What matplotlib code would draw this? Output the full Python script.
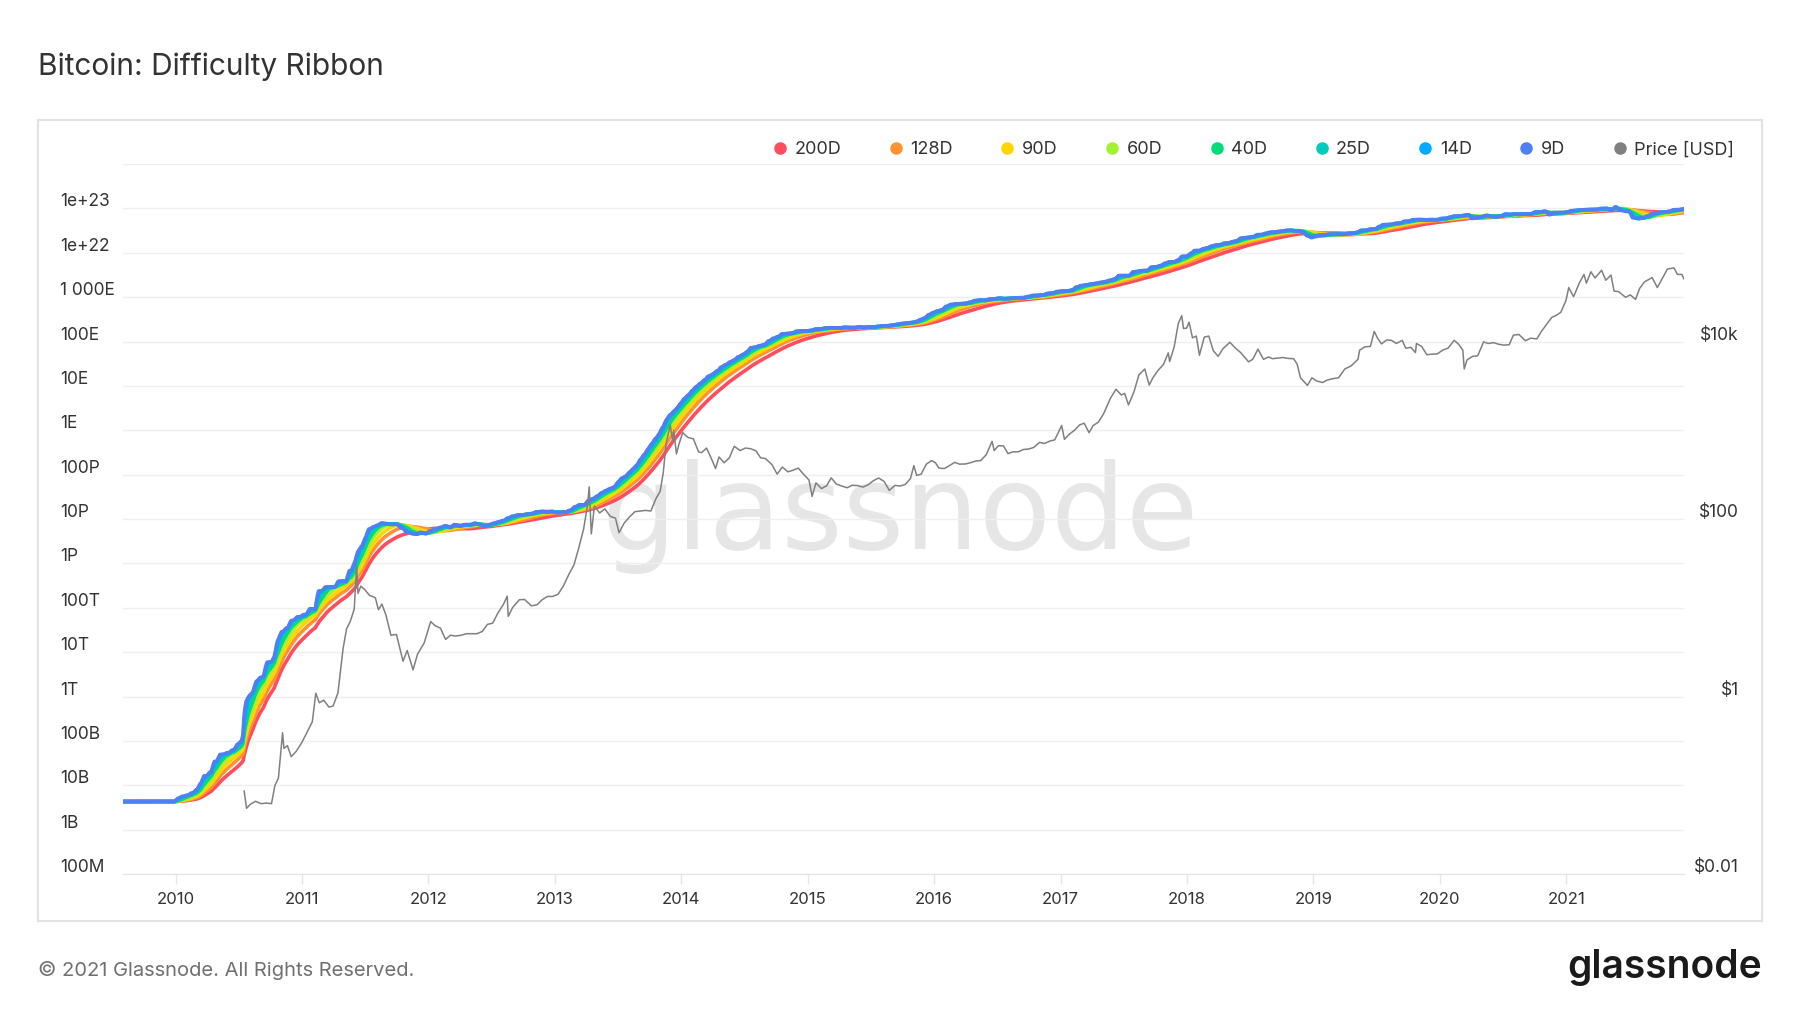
import matplotlib.pyplot as plt
import matplotlib.dates as mdates
import matplotlib.transforms as mtransforms
from matplotlib.lines import Line2D
from matplotlib.patches import Rectangle
import pandas as pd

plt.rcParams['font.family'] = ['Inter', 'DejaVu Sans']

# Mining difficulty at (roughly) each retarget, raw difficulty units.
# The chart plots it as expected hashes per block = difficulty * 2^32
HASHES_PER_DIFF = 2 ** 32
diff_dates = [
    '2009-01-03', '2009-12-30', '2010-01-11', '2010-01-25', '2010-02-07', '2010-02-21', '2010-03-05', '2010-03-16',
    '2010-04-02', '2010-04-15', '2010-05-01', '2010-05-20', '2010-06-05', '2010-06-20', '2010-07-02', '2010-07-12',
    '2010-07-16', '2010-07-25', '2010-08-05', '2010-08-14', '2010-08-25', '2010-09-07', '2010-09-14', '2010-09-26',
    '2010-10-06', '2010-10-14', '2010-10-17', '2010-10-26', '2010-11-08', '2010-11-22', '2010-12-01', '2010-12-10',
    '2010-12-28', '2011-01-15', '2011-02-10', '2011-03-01', '2011-03-14', '2011-04-08', '2011-05-10', '2011-05-25',
    '2011-06-04', '2011-06-14', '2011-06-25', '2011-07-05', '2011-07-18', '2011-07-30', '2011-08-10', '2011-08-22',
    '2011-09-05', '2011-09-20', '2011-10-05', '2011-10-20', '2011-11-05', '2011-11-17', '2011-11-30', '2011-12-12',
    '2011-12-28', '2012-01-10', '2012-01-25', '2012-02-08', '2012-02-22', '2012-03-07', '2012-03-20', '2012-04-05',
    '2012-04-19', '2012-05-04', '2012-05-17', '2012-06-01', '2012-06-14', '2012-06-28', '2012-07-12', '2012-07-25',
    '2012-08-08', '2012-08-22', '2012-09-05', '2012-09-18', '2012-10-01', '2012-10-15', '2012-10-29', '2012-11-12',
    '2012-11-27', '2012-12-12', '2012-12-26', '2013-01-09', '2013-01-22', '2013-02-04', '2013-02-18', '2013-03-03',
    '2013-03-15', '2013-03-29', '2013-04-11', '2013-04-24', '2013-05-06', '2013-05-18', '2013-05-30', '2013-06-11',
    '2013-06-23', '2013-07-04', '2013-07-15', '2013-07-26', '2013-08-06', '2013-08-16', '2013-08-27', '2013-09-07',
    '2013-09-18', '2013-09-28', '2013-10-09', '2013-10-20', '2013-10-30', '2013-11-10', '2013-11-20', '2013-12-01',
    '2013-12-10', '2013-12-20', '2013-12-31', '2014-01-11', '2014-01-23', '2014-02-03', '2014-02-15', '2014-02-27',
    '2014-03-11', '2014-03-23', '2014-04-04', '2014-04-17', '2014-04-29', '2014-05-12', '2014-05-24', '2014-06-05',
    '2014-06-18', '2014-06-30', '2014-07-12', '2014-07-25', '2014-08-06', '2014-08-19', '2014-09-01', '2014-09-14',
    '2014-09-27', '2014-10-10', '2014-10-24', '2014-11-07', '2014-11-20', '2014-12-04', '2014-12-17', '2014-12-30',
    '2015-01-14', '2015-01-27', '2015-02-09', '2015-02-23', '2015-03-09', '2015-03-23', '2015-04-06', '2015-04-20',
    '2015-05-04', '2015-05-18', '2015-06-01', '2015-06-15', '2015-06-29', '2015-07-13', '2015-07-27', '2015-08-10',
    '2015-08-24', '2015-09-07', '2015-09-21', '2015-10-05', '2015-10-19', '2015-11-02', '2015-11-14', '2015-11-26',
    '2015-12-08', '2015-12-20', '2016-01-01', '2016-01-14', '2016-01-27', '2016-02-09', '2016-02-23', '2016-03-07',
    '2016-03-21', '2016-04-04', '2016-04-18', '2016-05-02', '2016-05-16', '2016-05-30', '2016-06-13', '2016-06-27',
    '2016-07-11', '2016-07-25', '2016-08-08', '2016-08-22', '2016-09-05', '2016-09-19', '2016-10-03', '2016-10-17',
    '2016-10-31', '2016-11-14', '2016-11-28', '2016-12-12', '2016-12-26', '2017-01-09', '2017-01-23', '2017-02-06',
    '2017-02-20', '2017-03-06', '2017-03-20', '2017-04-03', '2017-04-17', '2017-05-01', '2017-05-14', '2017-05-27',
    '2017-06-09', '2017-06-23', '2017-07-07', '2017-07-20', '2017-08-03', '2017-08-16', '2017-08-29', '2017-09-11',
    '2017-09-24', '2017-10-07', '2017-10-20', '2017-11-02', '2017-11-15', '2017-11-27', '2017-12-09', '2017-12-21',
    '2018-01-02', '2018-01-14', '2018-01-26', '2018-02-08', '2018-02-20', '2018-03-04', '2018-03-16', '2018-03-28',
    '2018-04-09', '2018-04-21', '2018-05-03', '2018-05-15', '2018-05-27', '2018-06-08', '2018-06-20', '2018-07-02',
    '2018-07-14', '2018-07-26', '2018-08-07', '2018-08-19', '2018-08-31', '2018-09-12', '2018-09-24', '2018-10-06',
    '2018-10-18', '2018-10-30', '2018-11-11', '2018-11-23', '2018-12-05', '2018-12-17', '2018-12-29', '2019-01-10',
    '2019-01-22', '2019-02-04', '2019-02-18', '2019-03-04', '2019-03-18', '2019-04-01', '2019-04-14', '2019-04-27',
    '2019-05-10', '2019-05-23', '2019-06-05', '2019-06-18', '2019-07-01', '2019-07-13', '2019-07-25', '2019-08-06',
    '2019-08-18', '2019-08-30', '2019-09-11', '2019-09-23', '2019-10-05', '2019-10-17', '2019-10-29', '2019-11-10',
    '2019-11-22', '2019-12-04', '2019-12-16', '2019-12-28', '2020-01-09', '2020-01-21', '2020-02-02', '2020-02-14',
    '2020-02-26', '2020-03-09', '2020-03-26', '2020-04-08', '2020-04-21', '2020-05-04', '2020-05-20', '2020-06-04',
    '2020-06-16', '2020-06-29', '2020-07-11', '2020-07-24', '2020-08-05', '2020-08-17', '2020-08-30', '2020-09-12',
    '2020-09-24', '2020-10-05', '2020-10-19', '2020-11-03', '2020-11-16', '2020-11-29', '2020-12-11', '2020-12-24',
    '2021-01-06', '2021-01-18', '2021-01-30', '2021-02-11', '2021-02-24', '2021-03-09', '2021-03-21', '2021-04-02',
    '2021-04-16', '2021-04-30', '2021-05-13', '2021-05-26', '2021-06-12', '2021-06-26', '2021-07-03', '2021-07-17',
    '2021-07-31', '2021-08-13', '2021-08-27', '2021-09-08', '2021-09-21', '2021-10-03', '2021-10-16', '2021-10-29',
    '2021-11-11', '2021-11-23', '2021-12-07',
]
diff_values = [
    1, 1.18, 1.31, 1.39, 1.55, 1.83, 2.53, 3.78,
    4.6, 8.0, 11.5, 12.5, 14.5, 19.4, 23.5, 45.4,
    181.5, 244.2, 305, 512, 623, 713, 1379, 1400,
    1890, 3300, 4536, 6696, 8078, 11808, 12252, 14484,
    16307, 22012, 55589, 67957, 68978, 92347, 159143, 244139,
    434882, 567358, 876954, 1379223, 1563027, 1690906, 1888786, 1805700,
    1755425, 1777774, 1468195, 1192497, 1090716, 1059308, 1159929, 1096336,
    1250757, 1376302, 1496978, 1626026, 1498294, 1733207, 1626503, 1733207,
    1726566, 1866391, 1745000, 1591074, 1726566, 1866391, 2002000, 2140000,
    2440000, 2690000, 2860000, 2870000, 3000000, 3080000, 3370000, 3440000,
    3370000, 3440000, 3250000, 3270000, 3370000, 3650000, 4370000, 4850000,
    4850000, 6000000, 6700000, 7670000, 8970000, 10080000, 11190000, 12150000,
    15600000, 19300000, 21300000, 26100000, 31300000, 37400000, 50800000, 65800000,
    86900000, 112600000, 148800000, 189000000, 267700000, 390000000, 510900000, 609500000,
    707400000, 908800000, 1.18e9, 1.42e9, 1.79e9, 2.19e9, 2.62e9, 3.13e9,
    3.82e9, 4.25e9, 5.00e9, 6.12e9, 6.95e9, 8.00e9, 8.85e9, 10.46e9,
    11.76e9, 13.46e9, 16.82e9, 17.34e9, 18.74e9, 19.73e9, 23.84e9, 27.43e9,
    29.83e9, 34.66e9, 35.00e9, 35.99e9, 39.60e9, 40.30e9, 40.00e9, 41.27e9,
    44.45e9, 43.97e9, 46.70e9, 47.60e9, 47.43e9, 46.70e9, 48.80e9, 47.59e9,
    47.43e9, 49.40e9, 47.60e9, 49.70e9, 49.40e9, 51.10e9, 52.30e9, 52.70e9,
    54.30e9, 56.90e9, 59.30e9, 60.90e9, 62.30e9, 65.80e9, 72.70e9, 79.10e9,
    93.40e9, 103.9e9, 113.4e9, 120.0e9, 144.1e9, 158.4e9, 163.5e9, 165.5e9,
    166.9e9, 178.7e9, 194.2e9, 199.3e9, 196.0e9, 209.7e9, 213.4e9, 220.8e9,
    213.4e9, 218.0e9, 220.8e9, 225.8e9, 225.8e9, 240.0e9, 253.6e9, 254.6e9,
    260.0e9, 281.9e9, 286.8e9, 310.3e9, 317.7e9, 317.7e9, 336.7e9, 392.9e9,
    422.9e9, 440.7e9, 460.8e9, 475.1e9, 499.6e9, 521.9e9, 559.9e9, 595.1e9,
    711.0e9, 708.0e9, 708.0e9, 860.2e9, 888.2e9, 922.7e9, 923.0e9, 1103e9,
    1123e9, 1196e9, 1347e9, 1452e9, 1452e9, 1590e9, 1931e9, 1931e9,
    2227e9, 2603e9, 2603e9, 2874e9, 3007e9, 3290e9, 3462e9, 3511e9,
    3839e9, 3839e9, 4143e9, 4306e9, 4940e9, 5078e9, 5178e9, 5364e9,
    5949e9, 5949e9, 6389e9, 6727e9, 6727e9, 7019e9, 7152e9, 7454e9,
    7454e9, 7184e9, 7184e9, 6653e9, 5646e9, 5106e9, 5618e9, 5883e9,
    5814e9, 6071e9, 6061e9, 6061e9, 6068e9, 6379e9, 6379e9, 6704e9,
    7459e9, 7459e9, 7934e9, 7934e9, 9064e9, 9985e9, 9985e9, 10183e9,
    10772e9, 10772e9, 11890e9, 11890e9, 12759e9, 13008e9, 13008e9, 12720e9,
    12973e9, 12876e9, 12876e9, 13798e9, 13798e9, 14776e9, 15546e9, 15546e9,
    15958e9, 16550e9, 13912e9, 14715e9, 15138e9, 16104e9, 15138e9, 15138e9,
    15785e9, 17346e9, 16847e9, 17345e9, 16952e9, 17345e9, 17558e9, 17596e9,
    19314e9, 19314e9, 19997e9, 16847e9, 18670e9, 18599e9, 18599e9, 19160e9,
    20608e9, 20824e9, 21448e9, 21724e9, 21865e9, 21865e9, 21865e9, 23137e9,
    23137e9, 20890e9, 25046e9, 21047e9, 19933e9, 19932e9, 14363e9, 13673e9,
    14364e9, 15556e9, 17615e9, 18415e9, 19000e9, 19314e9, 19997e9, 21659e9,
    21659e9, 22336e9, 22674e9,
]

# Bitcoin price (USD)
price_dates = [
    '2010-07-18', '2010-07-25', '2010-08-05', '2010-08-20', '2010-09-05', '2010-09-20', '2010-10-05', '2010-10-15',
    '2010-10-25', '2010-11-06', '2010-11-10', '2010-11-20', '2010-12-01', '2010-12-15', '2010-12-31', '2011-01-15',
    '2011-01-31', '2011-02-10', '2011-02-20', '2011-03-05', '2011-03-20', '2011-04-01', '2011-04-15', '2011-04-30',
    '2011-05-10', '2011-05-20', '2011-06-01', '2011-06-08', '2011-06-12', '2011-06-20', '2011-07-01', '2011-07-15',
    '2011-08-01', '2011-08-10', '2011-08-20', '2011-09-01', '2011-09-15', '2011-10-01', '2011-10-20', '2011-11-01',
    '2011-11-18', '2011-12-01', '2011-12-20', '2012-01-08', '2012-01-20', '2012-02-05', '2012-02-20', '2012-03-05',
    '2012-03-20', '2012-04-05', '2012-04-20', '2012-05-05', '2012-05-20', '2012-06-05', '2012-06-20', '2012-07-05',
    '2012-07-20', '2012-08-05', '2012-08-16', '2012-08-19', '2012-09-01', '2012-09-20', '2012-10-05', '2012-10-25',
    '2012-11-10', '2012-11-25', '2012-12-10', '2012-12-25', '2013-01-10', '2013-01-25', '2013-02-10', '2013-02-25',
    '2013-03-10', '2013-03-25', '2013-04-05', '2013-04-10', '2013-04-16', '2013-04-25', '2013-05-10', '2013-05-25',
    '2013-06-10', '2013-06-25', '2013-07-05', '2013-07-20', '2013-08-05', '2013-08-20', '2013-09-05', '2013-09-20',
    '2013-10-05', '2013-10-20', '2013-11-01', '2013-11-10', '2013-11-18', '2013-11-30', '2013-12-07', '2013-12-10',
    '2013-12-18', '2013-12-25', '2014-01-05', '2014-01-20', '2014-02-05', '2014-02-20', '2014-03-01', '2014-03-15',
    '2014-03-31', '2014-04-10', '2014-04-20', '2014-05-05', '2014-05-20', '2014-06-03', '2014-06-20', '2014-07-05',
    '2014-07-20', '2014-08-05', '2014-08-18', '2014-09-01', '2014-09-20', '2014-10-05', '2014-10-20', '2014-11-05',
    '2014-11-20', '2014-12-05', '2014-12-20', '2015-01-05', '2015-01-14', '2015-01-25', '2015-02-10', '2015-02-25',
    '2015-03-10', '2015-03-25', '2015-04-10', '2015-04-25', '2015-05-10', '2015-05-25', '2015-06-10', '2015-06-25',
    '2015-07-10', '2015-07-25', '2015-08-10', '2015-08-25', '2015-09-10', '2015-09-25', '2015-10-10', '2015-10-25',
    '2015-11-04', '2015-11-12', '2015-11-25', '2015-12-10', '2015-12-25', '2016-01-05', '2016-01-15', '2016-01-31',
    '2016-02-15', '2016-03-01', '2016-03-15', '2016-04-01', '2016-04-15', '2016-05-01', '2016-05-15', '2016-05-31',
    '2016-06-17', '2016-06-23', '2016-07-05', '2016-07-20', '2016-08-02', '2016-08-15', '2016-09-01', '2016-09-15',
    '2016-10-01', '2016-10-15', '2016-11-01', '2016-11-15', '2016-12-01', '2016-12-15', '2017-01-04', '2017-01-12',
    '2017-01-25', '2017-02-10', '2017-02-25', '2017-03-10', '2017-03-24', '2017-04-05', '2017-04-20', '2017-05-05',
    '2017-05-25', '2017-06-10', '2017-06-25', '2017-07-05', '2017-07-16', '2017-08-01', '2017-08-15', '2017-09-01',
    '2017-09-14', '2017-09-25', '2017-10-10', '2017-10-25', '2017-11-08', '2017-11-12', '2017-11-25', '2017-12-07',
    '2017-12-17', '2017-12-22', '2017-12-31', '2018-01-07', '2018-01-17', '2018-01-28', '2018-02-06', '2018-02-20',
    '2018-03-05', '2018-03-18', '2018-04-01', '2018-04-15', '2018-05-05', '2018-05-20', '2018-06-05', '2018-06-28',
    '2018-07-10', '2018-07-25', '2018-08-10', '2018-08-25', '2018-09-05', '2018-09-20', '2018-10-05', '2018-10-20',
    '2018-11-05', '2018-11-15', '2018-11-25', '2018-12-15', '2018-12-28', '2019-01-10', '2019-01-28', '2019-02-08',
    '2019-02-24', '2019-03-15', '2019-04-02', '2019-04-20', '2019-05-10', '2019-05-15', '2019-05-30', '2019-06-15',
    '2019-06-26', '2019-07-05', '2019-07-17', '2019-08-01', '2019-08-15', '2019-08-29', '2019-09-15', '2019-09-25',
    '2019-10-10', '2019-10-23', '2019-10-26', '2019-11-10', '2019-11-25', '2019-12-10', '2019-12-25', '2020-01-10',
    '2020-01-25', '2020-02-12', '2020-02-25', '2020-03-08', '2020-03-12', '2020-03-20', '2020-04-05', '2020-04-20',
    '2020-05-07', '2020-05-20', '2020-06-05', '2020-06-20', '2020-07-05', '2020-07-20', '2020-08-01', '2020-08-17',
    '2020-09-05', '2020-09-20', '2020-10-08', '2020-10-21', '2020-11-05', '2020-11-20', '2020-12-01', '2020-12-16',
    '2020-12-31', '2021-01-08', '2021-01-22', '2021-02-08', '2021-02-21', '2021-02-28', '2021-03-13', '2021-03-25',
    '2021-04-13', '2021-04-25', '2021-05-10', '2021-05-19', '2021-06-01', '2021-06-21', '2021-07-05', '2021-07-20',
    '2021-08-01', '2021-08-15', '2021-09-06', '2021-09-21', '2021-10-05', '2021-10-20', '2021-11-08', '2021-11-18',
    '2021-12-01', '2021-12-07',
]
price_usd = [
    0.086, 0.055, 0.061, 0.066, 0.062, 0.063, 0.062, 0.10,
    0.12, 0.39, 0.26, 0.28, 0.21, 0.24, 0.30, 0.39,
    0.52, 1.09, 0.85, 0.91, 0.76, 0.78, 1.10, 3.5,
    5.8, 6.9, 9.6, 29.6, 14.5, 17.5, 16.1, 13.8,
    13.0, 9.5, 11.0, 8.2, 4.9, 5.0, 2.5, 3.3,
    2.0, 3.0, 4.0, 7.0, 6.3, 5.9, 4.4, 4.9,
    4.8, 4.9, 5.1, 5.1, 5.1, 5.4, 6.5, 6.7,
    8.7, 10.9, 13.5, 8.0, 10.1, 12.3, 12.4, 10.5,
    10.8, 12.3, 13.4, 13.4, 14.2, 17.5, 23.7, 30.5,
    46, 78, 142, 230, 68, 140, 117, 130,
    107, 102, 70, 90, 106, 121, 123, 125,
    123, 170, 205, 335, 700, 1150, 760, 1000,
    540, 690, 940, 830, 800, 570, 560, 630,
    460, 370, 500, 430, 490, 660, 590, 630,
    620, 585, 490, 480, 410, 320, 385, 340,
    355, 375, 320, 275, 180, 255, 220, 237,
    291, 248, 235, 225, 240, 238, 229, 243,
    270, 290, 265, 210, 239, 235, 245, 285,
    400, 310, 320, 415, 455, 432, 375, 370,
    400, 435, 415, 417, 430, 450, 455, 530,
    750, 590, 670, 665, 545, 570, 572, 607,
    615, 640, 730, 710, 755, 780, 1130, 790,
    895, 1000, 1150, 1200, 940, 1130, 1235, 1530,
    2300, 2900, 2500, 2600, 1930, 2720, 4200, 4900,
    3230, 3930, 4760, 5500, 7450, 5950, 8700, 16000,
    19500, 14000, 14150, 16500, 11000, 11500, 7000, 11200,
    11500, 7900, 6800, 8300, 9800, 8500, 7500, 5900,
    6300, 8200, 6300, 6700, 6400, 6500, 6600, 6450,
    6400, 5600, 3900, 3200, 3900, 3600, 3450, 3650,
    3800, 3900, 4900, 5300, 6300, 8000, 8700, 8800,
    13000, 11000, 9400, 10400, 10300, 9500, 10300, 8400,
    8600, 7500, 9500, 8800, 7100, 7200, 7250, 8000,
    8400, 10300, 9300, 8000, 4900, 6200, 6800, 6900,
    9900, 9500, 9700, 9300, 9100, 9200, 11800, 12000,
    10200, 10900, 10700, 13000, 15600, 18700, 19500, 21300,
    29000, 40500, 32000, 46000, 57000, 45500, 61000, 52000,
    63500, 49000, 56000, 37000, 36500, 31500, 33500, 29800,
    39800, 47000, 52500, 40500, 51000, 65500, 67500, 57000,
    57000, 50500,
]

ribbon_days = [200, 128, 90, 60, 40, 25, 14, 9]
ribbon_colors = ['#ff4d5e', '#ff9232', '#ffd500', '#a3f12f', '#00dd77', '#00ccbb', '#00aaff', '#4f7ef5']
price_color = '#808080'

left_ticks = [1e8, 1e9, 1e10, 1e11, 1e12, 1e13, 1e14, 1e15, 1e16, 1e17, 1e18, 1e19, 1e20, 1e21, 1e22, 1e23, 1e24]
left_labels = ['100M', '1B', '10B', '100B', '1T', '10T', '100T', '1P', '10P', '100P',
               '1E', '10E', '100E', '1 000E', '1e+22', '1e+23', '']
right_ticks = [0.01, 1, 100, 1e4]
right_labels = ['$0.01', '$1', '$100', '$10k']

# ribbon = simple moving averages of the (step-wise) difficulty
difficulty = pd.Series(diff_values, index=pd.to_datetime(diff_dates)) * HASHES_PER_DIFF
daily = difficulty.resample('D').ffill()
price = pd.Series(price_usd, index=pd.to_datetime(price_dates))

W, H = 1800, 1013
fig = plt.figure(figsize=(18, 10.13), dpi=100)
fig.patch.set_facecolor('white')

# panel frame
fig.add_artist(Rectangle((38 / W, 1 - 921 / H), 1724 / W, 801 / H, transform=fig.transFigure,
                         fill=False, edgecolor='#e3e3e3', linewidth=1.5))

ax = fig.add_axes([123 / W, 1 - 874 / H, (1684 - 123) / W, (874 - 164) / H])
ax2 = ax.twinx()

for n, c in zip(ribbon_days, ribbon_colors):
    sma = daily.rolling(n, min_periods=1).mean()
    ax.plot(sma.index, sma.values, color=c, linewidth=2.6, solid_capstyle='round', zorder=2)

ax2.plot(price.index, price.values, color=price_color, linewidth=1.1)

# watermark
ax.text(900 / W, 1 - 549 / H, 'glassnode', transform=fig.transFigure, ha='center', va='baseline',
        fontsize=85, family='DejaVu Sans', color='#e6e6e6', zorder=0.5)

ax.set_yscale('log')
ax.set_ylim(1e8, 1e24)
ax2.set_yscale('log')
ax2.set_ylim(1e-2, 1e6)
ax.set_xlim(pd.Timestamp('2009-08-02'), pd.Timestamp('2021-12-07'))

ax.set_yticks(left_ticks, left_labels)
ax2.set_yticks(right_ticks, right_labels)
ax.minorticks_off()
ax2.minorticks_off()

ax.xaxis.set_major_locator(mdates.YearLocator())
ax.xaxis.set_major_formatter(mdates.DateFormatter('%Y'))

ax.grid(axis='y', color='#efefef', linewidth=1)
ax.set_axisbelow(True)
for s in ['top', 'left', 'right']:
    ax.spines[s].set_visible(False)
ax.spines['bottom'].set_color('#e3e3e3')
for s in ax2.spines.values():
    s.set_visible(False)

ax.tick_params(axis='x', length=7, width=1, color='#e6e6e6', pad=6, labelsize=12, labelcolor='#333333')
ax.tick_params(axis='y', length=0, pad=45.4, labelsize=12.5, labelcolor='#333333')
ax2.tick_params(axis='y', length=0, pad=39.6, labelsize=12.5, labelcolor='#333333')

# labels sit just above their gridline
up = mtransforms.ScaledTranslation(0, 0.065, fig.dpi_scale_trans)
for t in ax.yaxis.get_major_ticks():
    t.label1.set_horizontalalignment('left')
    t.label1.set_verticalalignment('center')
    t.label1.set_transform(t.label1.get_transform() + up)
for t in ax2.yaxis.get_major_ticks():
    t.label2.set_horizontalalignment('right')
    t.label2.set_verticalalignment('center')
    t.label2.set_transform(t.label2.get_transform() + up)

# legend
labels = [f'{n}D' for n in ribbon_days] + ['Price [USD]']
handles = [Line2D([], [], marker='o', linestyle='', color=c, markersize=8)
           for c in ribbon_colors + [price_color]]
leg = fig.legend(handles, labels, loc='center right', bbox_to_anchor=(1734 / W, 1 - 150 / H), ncol=9,
                 frameon=False, fontsize=13, handlelength=0.8, handletextpad=0.4, columnspacing=2.62,
                 borderaxespad=0, borderpad=0)
for t in leg.get_texts():
    t.set_color('#333333')

fig.text(38 / W, 1 - 67 / H, 'Bitcoin: Difficulty Ribbon', ha='left', va='center', fontsize=21.5, color='#333333')
fig.text(38 / W, 1 - 970 / H, '© 2021 Glassnode. All Rights Reserved.', ha='left', va='center',
         fontsize=14.5, color='#707070')
fig.text(1762 / W, 1 - 978 / H, 'glassnode', ha='right', va='baseline', fontsize=28, fontweight='semibold',
         color='#1a1a1a')

fig.savefig('out.png', dpi=100)
